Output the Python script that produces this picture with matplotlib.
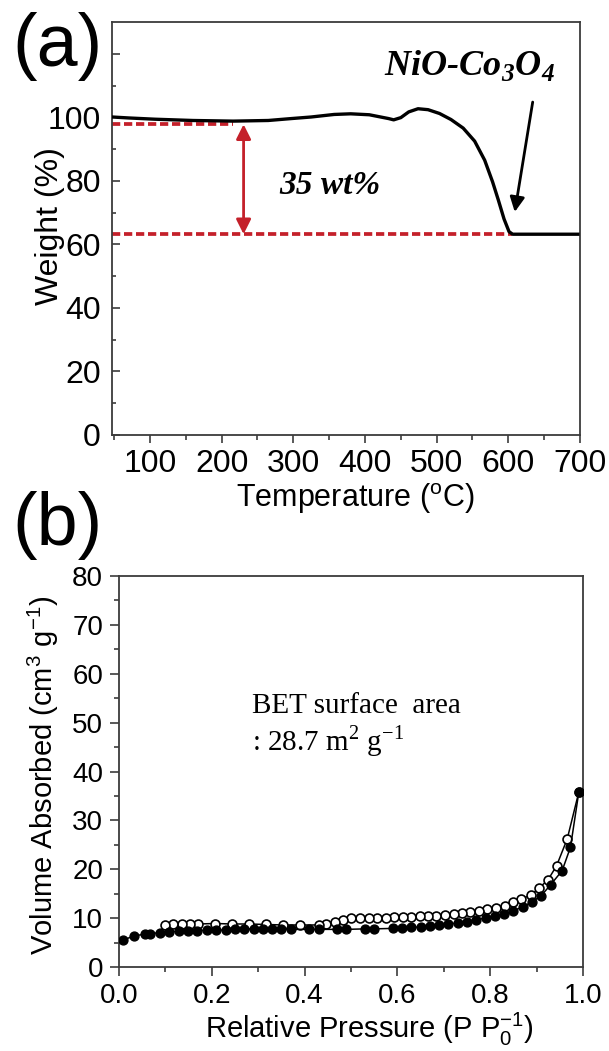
import matplotlib
matplotlib.use('Agg')
import matplotlib.pyplot as plt
from matplotlib.ticker import MultipleLocator, FixedLocator, FuncFormatter

plt.rcParams['font.family'] = ['Liberation Sans', 'DejaVu Sans']
plt.rcParams['mathtext.fontset'] = 'custom'
plt.rcParams['mathtext.rm'] = 'Liberation Sans'
plt.rcParams['mathtext.it'] = 'Liberation Sans:italic'
plt.rcParams['mathtext.bf'] = 'Liberation Sans:bold'
plt.rcParams['mathtext.sf'] = 'Liberation Serif:bold:italic'
plt.rcParams['mathtext.cal'] = 'Liberation Serif'

# ---------------- data: panel (a) TGA ----------------
tga_temp = [47, 70, 107, 160, 216, 265, 297, 325, 357, 380, 406, 433, 440, 450,
            461, 474, 488, 504, 520, 537, 553, 567, 578, 586, 594, 601, 606, 650, 697]
tga_weight = [100.1, 99.8, 99.4, 99.0, 98.8, 99.0, 99.6, 100.1, 100.9, 101.1, 100.8,
              99.6, 99.2, 99.9, 101.7, 102.7, 102.4, 101.2, 99.3, 96.6, 92.5, 86.5,
              79.7, 74.0, 68.0, 64.0, 63.2, 63.2, 63.2]
upper_level = 97.8
lower_level = 63.2
upper_end = 216
lower_end = 605
loss_x = 230.6
loss_label = "35 wt%"

# ---------------- data: panel (b) N2 isotherm ----------------
ads_p = [0.009, 0.033, 0.056, 0.067, 0.088, 0.108, 0.129, 0.149, 0.169, 0.19, 0.21,
         0.23, 0.25, 0.27, 0.29, 0.31, 0.33, 0.35, 0.37, 0.41, 0.43, 0.47, 0.49, 0.53,
         0.55, 0.59, 0.61, 0.63, 0.65, 0.67, 0.69, 0.71, 0.73, 0.75, 0.77, 0.79, 0.81,
         0.83, 0.85, 0.87, 0.89, 0.91, 0.93, 0.955, 0.973, 0.991]
ads_v = [5.5, 6.4, 6.7, 6.8, 7.05, 7.2, 7.3, 7.4, 7.45, 7.5, 7.5, 7.6, 7.7, 7.7, 7.7,
         7.7, 7.7, 7.7, 7.7, 7.7, 7.7, 7.7, 7.7, 7.8, 7.8, 7.9, 8.0, 8.1, 8.2, 8.4,
         8.6, 8.8, 9.0, 9.3, 9.7, 10.0, 10.4, 10.9, 11.5, 12.3, 13.3, 14.6, 16.8,
         19.7, 24.5, 35.8]
des_p = [0.991, 0.966, 0.943, 0.925, 0.905, 0.887, 0.867, 0.85, 0.831, 0.813, 0.794,
         0.776, 0.757, 0.739, 0.721, 0.703, 0.684, 0.666, 0.648, 0.63, 0.611, 0.593,
         0.575, 0.556, 0.538, 0.52, 0.50, 0.483, 0.465, 0.447, 0.43, 0.39, 0.354,
         0.316, 0.28, 0.244, 0.207, 0.171, 0.153, 0.135, 0.117, 0.099]
des_v = [35.8, 26.2, 20.7, 17.9, 16.1, 14.7, 13.9, 13.2, 12.5, 12.1, 11.8, 11.5, 11.2,
         11.0, 10.8, 10.7, 10.5, 10.5, 10.4, 10.3, 10.2, 10.2, 10.1, 10.1, 10.1, 10.0,
         10.0, 9.7, 9.2, 8.8, 8.6, 8.6, 8.6, 8.7, 8.8, 8.8, 8.9, 8.8, 8.8, 8.7, 8.7, 8.6]

red = '#c4202a'
spine_c = '#3c3c3c'

fig = plt.figure(figsize=(6.09, 10.51), dpi=100)
W, H = 609, 1051

def axes_px(l, t, r, b):
    return fig.add_axes([l / W, 1 - b / H, (r - l) / W, (b - t) / H])

# ---------------- panel (a) ----------------
ax1 = axes_px(112, 22, 580, 435)
ax1.plot(tga_temp, tga_weight, color='black', lw=2.4, solid_joinstyle='round', zorder=3)
ax1.plot([47, upper_end], [upper_level, upper_level], color=red, lw=2.7,
         ls=(0, (2.2, 1.0)), zorder=2)
ax1.plot([47, lower_end], [lower_level, lower_level], color=red, lw=2.7,
         ls=(0, (2.2, 1.0)), zorder=2)
ax1.annotate('', xy=(loss_x, lower_level), xytext=(loss_x, upper_level),
             arrowprops=dict(arrowstyle='<|-|>', color=red, lw=2.0,
                             mutation_scale=22, shrinkA=0, shrinkB=0))
ax1.annotate('', xy=(609, 70.2), xytext=(634, 104.8),
             arrowprops=dict(arrowstyle='-|>', color='black', lw=2.0,
                             mutation_scale=22, shrinkA=0, shrinkB=0))
ax1.text(281, 76, loss_label, family='Liberation Serif', fontsize=24,
         fontweight='bold', fontstyle='italic', ha='left', va='baseline')
ax1.text(427, 113.2, r'NiO-Co$_\mathsf{3}$O$_\mathsf{4}$', family='Liberation Serif',
         fontsize=26, fontweight='bold', fontstyle='italic', ha='left', va='baseline')

ax1.set_xlim(47, 700)
ax1.set_ylim(0, 130)
ax1.xaxis.set_major_locator(MultipleLocator(100))
ax1.xaxis.set_minor_locator(MultipleLocator(50))
ax1.yaxis.set_major_locator(FixedLocator([0, 20, 40, 60, 80, 100, 120]))
ax1.yaxis.set_minor_locator(FixedLocator([10, 30, 50, 70, 90, 110]))
ax1.yaxis.set_major_formatter(FuncFormatter(lambda v, p: '' if v > 100 else f'{v:.0f}'))
ax1.tick_params(axis='y', which='both', direction='in', labelsize=23, pad=8,
                color=spine_c, width=1.2)
ax1.tick_params(axis='y', which='major', length=6)
ax1.tick_params(axis='y', which='minor', length=3)
ax1.tick_params(axis='x', which='both', direction='out', labelsize=23, pad=4,
                color=spine_c, width=1.2)
ax1.tick_params(axis='x', which='major', length=6)
ax1.tick_params(axis='x', which='minor', length=3.5)
for s in ax1.spines.values():
    s.set_color(spine_c)
    s.set_linewidth(1.3)
ax1.set_xlabel(r'Temperature ($^\mathrm{o}$C)', fontsize=22)
ax1.set_ylabel('Weight (%)', fontsize=23)
ax1.yaxis.set_label_coords(-0.1, 0.505)
ax1.xaxis.set_label_coords(0.52, -0.112)

# ---------------- panel (b) ----------------
ax2 = axes_px(119, 576, 583, 967)
ax2.plot(des_p, des_v, color='black', lw=1.1, marker='o', ms=6.4, mfc='white',
         mec='black', mew=1.2, zorder=3)
ax2.plot(ads_p, ads_v, color='black', lw=1.1, marker='o', ms=6.4, mfc='black',
         mec='black', zorder=4)
ax2.text(0.2875, 51.9, 'BET surface  area', family='Liberation Serif', fontsize=21,
         ha='left', va='baseline')
ax2.text(0.2875, 44.4, r': 28.7 m$^{\mathcal{2}}$ g$^{\mathcal{-1}}$',
         family='Liberation Serif', fontsize=21, ha='left', va='baseline')
ax2.set_xlim(0, 1.0)
ax2.set_ylim(0, 80)
ax2.xaxis.set_major_locator(MultipleLocator(0.2))
ax2.xaxis.set_minor_locator(MultipleLocator(0.1))
ax2.yaxis.set_major_locator(MultipleLocator(10))
ax2.yaxis.set_minor_locator(MultipleLocator(5))
ax2.xaxis.set_major_formatter(FuncFormatter(lambda v, p: f'{v:.1f}'))
ax2.tick_params(which='both', direction='out', labelsize=20, pad=5,
                color=spine_c, width=1.2)
ax2.tick_params(which='major', length=6.5)
ax2.tick_params(which='minor', length=3.5)
for s in ax2.spines.values():
    s.set_color(spine_c)
    s.set_linewidth(1.3)
ax2.set_xlabel(r'Relative Pressure (P P$_0^{-1}$)', fontsize=21)
ax2.set_ylabel(r'Volume Absorbed (cm$^3$ g$^{-1}$)', fontsize=21)
ax2.xaxis.set_label_coords(0.539, -0.112)
ax2.yaxis.set_label_coords(-0.125, 0.49)

# panel letters
fig.text(12 / W, 1 - 66 / H, '(a)', fontsize=53, ha='left', va='baseline')
fig.text(12 / W, 1 - 545 / H, '(b)', fontsize=53, ha='left', va='baseline')

fig.savefig('out.png', dpi=100)
